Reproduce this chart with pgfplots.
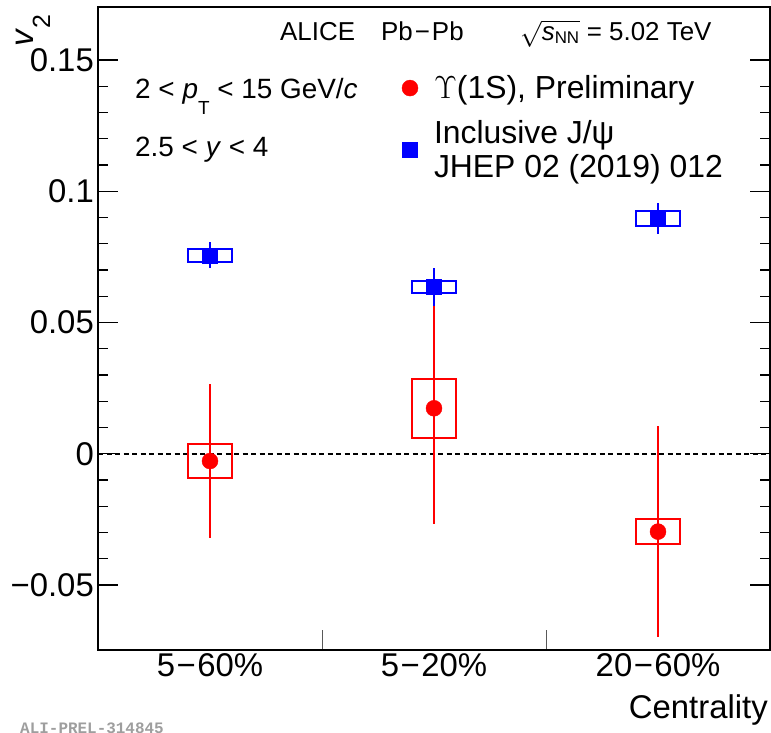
\RequirePackage{fix-cm}
\documentclass[border=0pt]{standalone}
\usepackage{pgfplots}
\pgfplotsset{compat=1.18}
\usepackage{fontspec}
\setmainfont{Liberation Sans}
\newfontfamily\monofont{Liberation Mono}

\pgfplotsset{mylegimg/.style={legend image code/.code={\draw[##1] plot coordinates {(0bp,0bp)};}}}
\newcommand{\mn}{\kern1.5bp−\kern1.5bp}

\pgfplotstableread{
x y e
0.5 -0.0028 0.0295
1.5 0.0173 0.0441
2.5 -0.0297 0.0403
}\upsilondata
\pgfplotstableread{
x y e
0.5 0.0756 0.0050
1.5 0.0636 0.0073
2.5 0.0896 0.0059
}\jpsidata

\begin{document}
\begin{tikzpicture}
\useasboundingbox (0,0) rectangle (771bp,733bp);
\begin{axis}[
  at={(98bp,83bp)}, anchor=south west,
  scale only axis, width=672bp, height=643bp,
  xmin=0, xmax=3, ymin=-0.0748, ymax=0.1702,
  clip=false,
  axis line style={line width=1.8bp},
  xtick={1,2}, xticklabels={}, xtick pos=left,
  xtick style={line width=1bp, black!65},
  extra x ticks={0.5,1.5,2.5},
  extra x tick labels={5\mn60\%,5\mn20\%,20\mn60\%},
  extra x tick style={major tick length=0pt},
  ytick={-0.05,0,0.05,0.1,0.15},
  yticklabels={−0.05,0,0.05,0.1,0.15},
  minor y tick num=4, ytick pos=both,
  ytick style={line width=1.2bp, black},
  tick align=inside,
  major tick length=20bp, minor tick length=10bp,
  tick label style={font=\fontsize{33}{33}\selectfont},
  yticklabel style={inner xsep=4bp},
  legend cell align=left,
  legend style={at={(axis description cs:0.4524,0.8930)}, anchor=north west,
    draw=none, fill=none, inner sep=0pt, outer sep=0pt,
    font=\fontsize{32}{34}\selectfont,
    nodes={inner sep=0pt, align=left},
    column sep=16bp, row sep=20bp},
]
% zero line
\addplot[black, mark=none, line width=2bp, dash pattern=on 5bp off 3.5bp, forget plot] coordinates {(0,0) (3,0)};

% Upsilon systematic boxes
\addplot[red, mark=none, line width=2bp, line cap=rect, forget plot] coordinates {(0.4,0.0037) (0.6,0.0037) (0.6,-0.0093) (0.4,-0.0093) (0.4,0.0037)};
\addplot[red, mark=none, line width=2bp, line cap=rect, forget plot] coordinates {(1.4,0.0285) (1.6,0.0285) (1.6,0.0061) (1.4,0.0061) (1.4,0.0285)};
\addplot[red, mark=none, line width=2bp, line cap=rect, forget plot] coordinates {(2.4,-0.0250) (2.6,-0.0250) (2.6,-0.0344) (2.4,-0.0344) (2.4,-0.0250)};

% Upsilon points
\addplot[red, only marks, mark=*, mark size=8bp, mylegimg,
  error bars/.cd, y dir=both, y explicit, error mark=none,
  error bar style={line width=2bp, red}]
  table[x=x, y=y, y error=e] {\upsilondata};
\addlegendentry{$\Upsilon$(1S), Preliminary}

% J/psi systematic boxes
\addplot[blue, mark=none, line width=2bp, line cap=rect, forget plot] coordinates {(0.4,0.0781) (0.6,0.0781) (0.6,0.0730) (0.4,0.0730) (0.4,0.0781)};
\addplot[blue, mark=none, line width=2bp, line cap=rect, forget plot] coordinates {(1.4,0.0658) (1.6,0.0658) (1.6,0.0614) (1.4,0.0614) (1.4,0.0658)};
\addplot[blue, mark=none, line width=2bp, line cap=rect, forget plot] coordinates {(2.4,0.0924) (2.6,0.0924) (2.6,0.0868) (2.4,0.0868) (2.4,0.0924)};

% J/psi points
\addplot[blue, only marks, mark=square*, mark size=7.5bp, mylegimg,
  error bars/.cd, y dir=both, y explicit, error mark=none,
  error bar style={line width=2bp, blue}]
  table[x=x, y=y, y error=e] {\jpsidata};
\addlegendentry{Inclusive J/ψ\\JHEP 02 (2019) 012}

% texts
\node[rotate=90, anchor=base east, inner sep=0pt, font=\fontsize{33}{33}\selectfont]
  at (axis description cs:-0.0967,0.9891) {\textit{v}\raisebox{-17bp}{\fontsize{25}{25}\selectfont 2}};
\node[anchor=base west, inner sep=0pt, font=\fontsize{26}{26}\selectfont]
  at (axis description cs:0.2708,0.9486) {ALICE};
\node[anchor=base west, inner sep=0pt, font=\fontsize{26}{26}\selectfont]
  at (axis description cs:0.4211,0.9486) {Pb\kern2bp−\kern2bp Pb};
\node[anchor=base west, inner sep=0pt, font=\fontsize{26}{26}\selectfont]
  at (axis description cs:0.6280,0.9486) {$\sqrt{\mbox{\textit{s}}_{\mbox{\fontsize{17}{17}\selectfont NN}}}$ = 5.02 TeV};
\node[anchor=base west, inner sep=0pt, font=\fontsize{28}{28}\selectfont]
  at (axis description cs:0.0551,0.8583) {2 < \textit{p}\raisebox{-16bp}{\fontsize{19}{19}\selectfont T} < 15 GeV/\textit{c}};
\node[anchor=base west, inner sep=0pt, font=\fontsize{28}{28}\selectfont]
  at (axis description cs:0.0551,0.7679) {2.5 < \textit{y} < 4};
\node[anchor=base east, inner sep=0pt, font=\fontsize{33}{33}\selectfont]
  at (axis description cs:0.997,-0.1059) {Centrality};
\node[anchor=base west, inner sep=0pt, font=\monofont\bfseries\fontsize{16}{16}\selectfont, text=black!38]
  at (axis description cs:-0.116,-0.1300) {ALI-PREL-314845};
\end{axis}
\end{tikzpicture}
\end{document}
